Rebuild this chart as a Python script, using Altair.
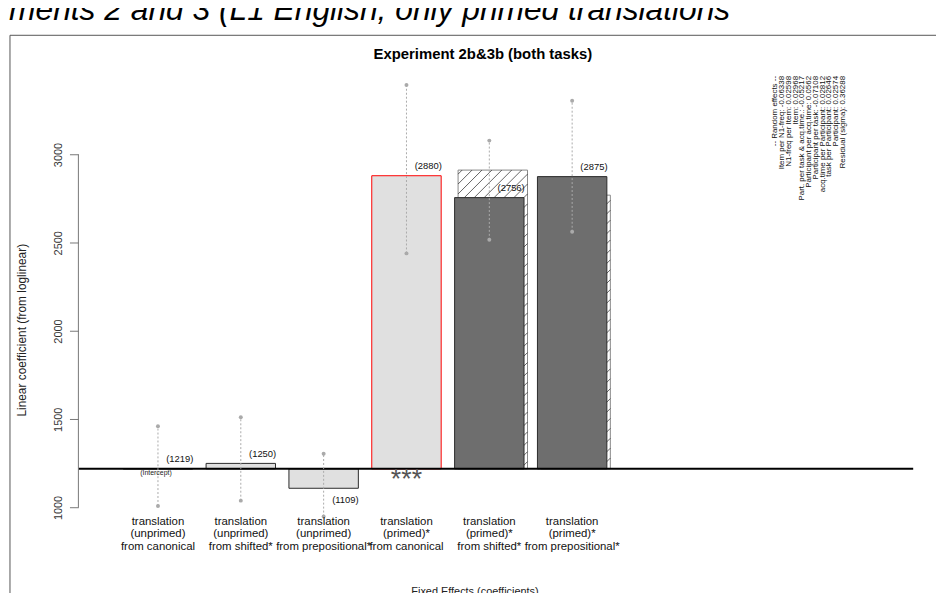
import math
import altair as alt
import pandas as pd

# ---------------- data ----------------
top_heading = "iments 2 and 3 (L1 English, only primed translations"
chart_title = "Experiment 2b&3b (both tasks)"
x_title = "Fixed Effects (coefficients)"
y_title = "Linear coefficient (from loglinear)"
intercept_label = "(Intercept)"

categories = [
    "translation\n(unprimed)\nfrom canonical",
    "translation\n(unprimed)\nfrom shifted*",
    "translation\n(unprimed)\nfrom prepositional*",
    "translation\n(primed)*\nfrom canonical",
    "translation\n(primed)*\nfrom shifted*",
    "translation\n(primed)*\nfrom prepositional*",
]
primed = [False, False, False, True, True, True]
source = ["canonical", "shifted", "prepositional", "canonical", "shifted", "prepositional"]
estimate = [1219, 1250, 1109, 2880, 2756, 2875]
ci_low = [1009, 1039, 949, 2440, 2517, 2563]
ci_high = [1461, 1511, 1305, 3394, 3079, 3305]
alt_estimate = [None, None, None, None, 2912, 2770]
significance = ["", "", "", "***", "", ""]
intercept = 1219
y_ticks = [1000, 1500, 2000, 2500, 3000]
random_effects = [
    "-- Random effects --",
    "Item per N1-freq: -0.06338",
    "N1-freq per Item: 0.02598",
    "Item: 0.02968",
    "",
    "Part. per task  &  acq.time.:  -0.05217",
    "Participant per acq.time: 0.0562",
    "Participant per task: -0.07108",
    "acq.time per Participant: 0.02812",
    "task per Participant: 0.02646",
    "Participant: 0.02574",
    "Residual (sigma): 0.36288",
]

# ---------------- layout ----------------
W, H = 842, 484
XMIN, XMAX = -0.9605, 9.117
YMIN, YMAX = 827.5, 3546.6
HALF = 0.419      # half bar width (x units)
HSHIFT = 0.042    # shift of the hatched (second) bars
FONT = "Liberation Sans"

xscale = alt.Scale(domain=[XMIN, XMAX], nice=False, zero=False)
yscale = alt.Scale(domain=[YMIN, YMAX], nice=False, zero=False)
yaxis = alt.Axis(
    values=y_ticks, format="d", domain=False, grid=False, tickSize=9, tickColor="#777",
    labelAngle=270, labelAlign="center", labelBaseline="bottom", labelPadding=6,
    labelFontSize=11, labelColor="#333", labelFont=FONT,
    title=y_title, titleFont=FONT, titleFontSize=12, titleFontWeight="normal",
    titleColor="#222", titleAngle=270, titleAlign="center", titleBaseline="middle",
    titleX=-57, titleY=274,
)

df = pd.DataFrame({
    "pos": list(range(len(categories))),
    "label": categories,
    "primed": primed,
    "source": source,
    "estimate": estimate,
    "ci_low": ci_low,
    "ci_high": ci_high,
    "alt_estimate": alt_estimate,
    "significance": significance,
    "intercept": [intercept] * len(categories),
})

one = pd.DataFrame({"k": [0]})


def X(field):
    return alt.X(field, type="quantitative", scale=xscale, axis=None)


def Y(field):
    return alt.Y(field, type="quantitative", scale=yscale, axis=yaxis)


# hatch segments for the second (hatched) bars, derived from their values
def px(u):
    return (u - XMIN) / (XMAX - XMIN) * W


def ux(p):
    return XMIN + p / W * (XMAX - XMIN)


def py(v):
    return H - (v - YMIN) / (YMAX - YMIN) * H


def vy(p):
    return YMIN + (H - p) / H * (YMAX - YMIN)


hatch_rows = []
for i, h in enumerate(alt_estimate):
    if h is None:
        continue
    x0, x1 = px(i - HALF + HSHIFT), px(i + HALF + HSHIFT)
    yt, yb = py(h), py(intercept)
    step = 10.0
    c = math.floor((x0 + yt) / step) * step
    while c <= x1 + yb:
        xa = max(x0, c - yb)
        xb = min(x1, c - yt)
        if xb - xa > 0.3:
            hatch_rows.append({"hx": ux(xa), "hy": vy(c - xa), "hx2": ux(xb), "hy2": vy(c - xb)})
        c += step
hatch_df = pd.DataFrame(hatch_rows)

# ---------------- layers ----------------
frame_left = alt.Chart(one).mark_rule(color="#555", strokeWidth=1).encode(
    x=alt.value(-69), y=alt.value(-23), y2=alt.value(H + 80))
frame_top = alt.Chart(one).mark_rule(color="#555", strokeWidth=1).encode(
    x=alt.value(-69), x2=alt.value(W + 60), y=alt.value(-23))

heading = alt.Chart(one).mark_text(
    align="left", baseline="alphabetic", fontSize=32, fontStyle="italic", font=FONT, color="#000"
).encode(x=alt.value(-77), y=alt.value(-38), text=alt.value(top_heading))

title = alt.Chart(one).mark_text(
    align="center", baseline="middle", fontSize=15, fontWeight="bold", font=FONT, color="#000"
).encode(x=alt.value(408), y=alt.value(-4), text=alt.value(chart_title))

xtitle = alt.Chart(one).mark_text(
    align="center", baseline="middle", fontSize=11, font=FONT, color="#222"
).encode(x=alt.value(400), y=alt.value(539), text=alt.value(x_title))

hatched_bars = alt.Chart(df).transform_filter("isValid(datum.alt_estimate)").transform_calculate(
    x0=f"datum.pos - {HALF} + {HSHIFT}", x1=f"datum.pos + {HALF} + {HSHIFT}"
).mark_rect(fill="white", stroke="#888", strokeWidth=1).encode(
    x=X("x0"), x2="x1", y=Y("alt_estimate"), y2="intercept")

hatch = alt.Chart(hatch_df).mark_rule(color="#222", strokeWidth=0.7).encode(
    x=X("hx"), x2="hx2", y=Y("hy"), y2="hy2")

bars = alt.Chart(df).transform_calculate(
    x0=f"datum.pos - {HALF}", x1=f"datum.pos + {HALF}"
).mark_rect(strokeWidth=1).encode(
    x=X("x0"), x2="x1", y=Y("estimate"), y2="intercept",
    fill=alt.condition("datum.primed && datum.source != 'canonical'",
                       alt.value("#6e6e6e"), alt.value("#e0e0e0")),
    stroke=alt.condition("datum.significance == '***'", alt.value("red"), alt.value("#2a2a2a")),
)

baseline = alt.Chart(df.head(1)).mark_rule(color="#000", strokeWidth=2).encode(y=Y("intercept"))

axis_line = alt.Chart(pd.DataFrame({"lo": [min(y_ticks)], "hi": [max(y_ticks)]})).mark_rule(
    color="#777", strokeWidth=1).encode(x=alt.value(0), y=Y("lo"), y2="hi")

ci = alt.Chart(df).mark_rule(color="#aaa", strokeWidth=1, strokeDash=[2, 2]).encode(
    x=X("pos"), y=Y("ci_low"), y2="ci_high")

ci_pts = alt.Chart(df).transform_fold(["ci_low", "ci_high"], as_=["end", "v"]).mark_circle(
    color="#aaa", size=16, opacity=1).encode(x=X("pos"), y=Y("v:Q"))

val_above = alt.Chart(df).transform_filter("datum.estimate >= datum.intercept").transform_calculate(
    t="'(' + datum.estimate + ')'"
).mark_text(align="center", baseline="middle", dx=22, dy=-9.5, fontSize=9.5, font=FONT, color="#111").encode(
    x=X("pos"), y=Y("estimate"), text="t:N")

val_below = alt.Chart(df).transform_filter("datum.estimate < datum.intercept").transform_calculate(
    t="'(' + datum.estimate + ')'"
).mark_text(align="center", baseline="middle", dx=22, dy=11.5, fontSize=9.5, font=FONT, color="#111").encode(
    x=X("pos"), y=Y("estimate"), text="t:N")

icpt = alt.Chart(df).transform_filter("datum.pos == 0").mark_text(
    align="center", baseline="middle", dx=-2, dy=4, fontSize=7, font=FONT, color="#222"
).encode(x=X("pos"), y=Y("intercept"), text=alt.value(intercept_label))

stars = alt.Chart(df).transform_filter("datum.significance != ''").mark_text(
    align="center", baseline="alphabetic", dy=19.6, fontSize=27, font=FONT, color="#555"
).encode(x=X("pos"), y=Y("intercept"), text="significance:N")

cat_labels = alt.Chart(df).mark_text(
    align="center", baseline="top", lineBreak="\n", lineHeight=12.5, fontSize=11.5, font=FONT, color="#111"
).encode(x=X("pos"), y=alt.value(462), text="label:N")

rand = alt.Chart(one).mark_text(
    angle=270, align="right", baseline="top", lineHeight=6.8, fontSize=8, font=FONT, color="#111"
).encode(x=alt.value(699), y=alt.value(18), text=alt.value(random_effects))

chart = alt.layer(
    frame_left, frame_top, heading, hatched_bars, hatch, bars, baseline, axis_line,
    ci, ci_pts, val_above, val_below, icpt, stars, cat_labels, rand, title, xtitle,
).properties(
    width=W, height=H,
    padding={"left": 71, "top": 48, "right": 23, "bottom": 53},
    autosize=alt.AutoSizeParams(type="none"),
    background="white",
).configure_view(stroke=None)

chart.save("out.html", embed_options={"renderer": "svg", "actions": False})
